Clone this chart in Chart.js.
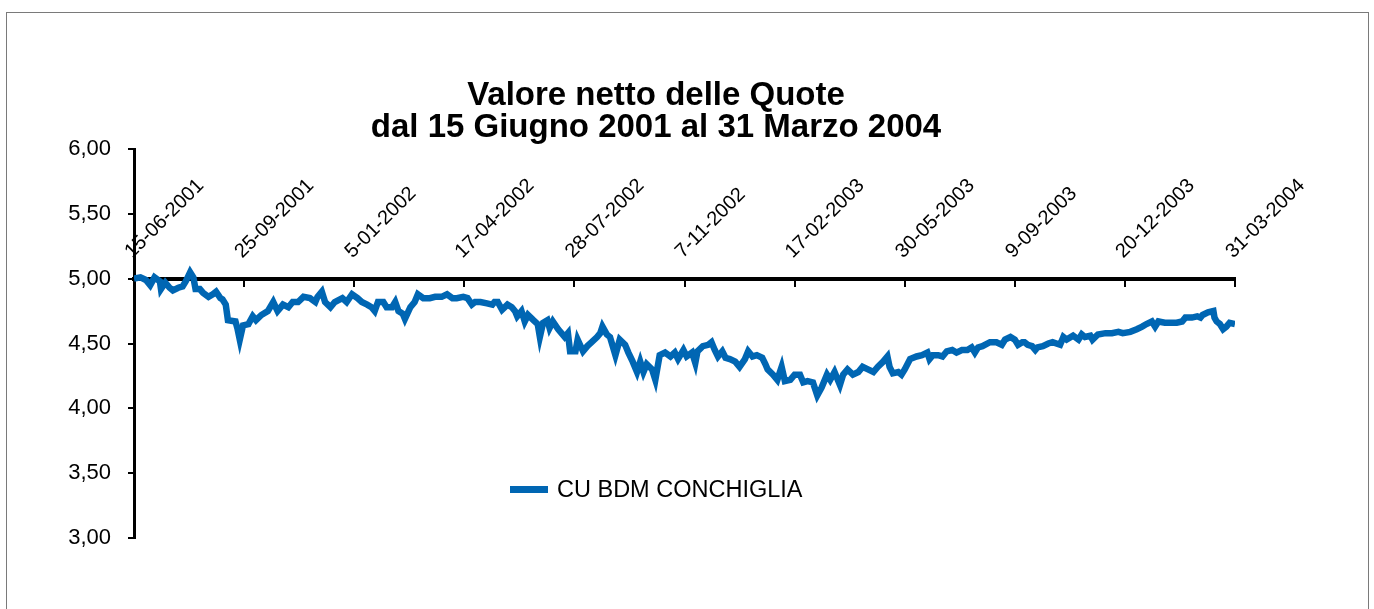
<!DOCTYPE html>
<html>
<head>
<meta charset="utf-8">
<script src="https://cdn.jsdelivr.net/npm/chart.js@4.4.1/dist/chart.umd.min.js"></script>
<style>
  html, body { margin: 0; padding: 0; background: #ffffff; overflow: hidden; }
  #frame { position: absolute; left: 6px; top: 12px; width: 1361px; height: 700px;
           border: 1px solid #7a7a7a; border-bottom: none; }
  #wrap { position: absolute; left: 0; top: 0; width: 1374px; height: 609px; }
  #legend { position: absolute; left: 510px; top: 476px; height: 26px; display: flex; align-items: center;
            font-family: "Liberation Sans", Arial, Helvetica, sans-serif; font-size: 23.5px; color: #000; }
  #legend .sw { width: 38px; height: 7px; background: #0066b3; margin-right: 9px; }
</style>
</head>
<body>
<div id="frame"></div>
<div id="wrap"><canvas id="c" width="1374" height="609"></canvas></div>
<div id="legend"><span class="sw"></span><span>CU BDM CONCHIGLIA</span></div>
<script>
const titleLines = ["Valore netto delle Quote", "dal 15 Giugno 2001 al 31 Marzo 2004"];
const seriesName = "CU BDM CONCHIGLIA";
const tickLabels = ["15-06-2001", "25-09-2001", "5-01-2002", "17-04-2002", "28-07-2002", "7-11-2002",
                    "17-02-2003", "30-05-2003", "9-09-2003", "20-12-2003", "31-03-2004"];
const tickStepDays = 102;
// days elapsed since 15-06-2001
const days = [0, 6, 11, 15, 19, 24, 25, 29, 33, 36, 41, 45, 48, 52, 55, 57, 61, 64, 69, 73,
  76, 80, 82, 85, 87, 94, 96, 98, 101, 106, 110, 113, 118, 124, 129, 133, 138, 143, 147, 152,
  157, 163, 168, 170, 174, 177, 182, 186, 193, 197, 202, 207, 211, 216, 220, 223, 226, 231, 234, 239,
  242, 245, 249, 251, 256, 260, 263, 268, 274, 279, 285, 290, 295, 299, 305, 309, 313, 316, 321, 327,
  332, 334, 337, 341, 346, 350, 353, 355, 359, 362, 365, 370, 374, 376, 379, 383, 385, 388, 393, 397,
  399, 402, 404, 409, 411, 416, 420, 424, 429, 432, 434, 438, 441, 446, 450, 455, 458, 462, 466, 469,
  472, 475, 480, 483, 487, 492, 497, 501, 504, 509, 512, 517, 520, 522, 527, 532, 535, 538, 541, 545,
  548, 552, 557, 561, 566, 569, 573, 577, 582, 585, 587, 592, 596, 600, 603, 608, 612, 617, 620, 624,
  629, 633, 637, 642, 645, 649, 654, 657, 661, 666, 671, 675, 680, 685, 689, 694, 698, 700, 703, 708,
  711, 714, 719, 725, 730, 735, 737, 740, 745, 749, 753, 758, 762, 767, 772, 776, 779, 782, 786, 793,
  799, 804, 807, 812, 816, 819, 823, 825, 828, 832, 835, 837, 842, 847, 851, 858, 861, 864, 870, 875,
  878, 881, 886, 888, 893, 900, 906, 912, 916, 923, 929, 934, 938, 943, 946, 949, 955, 962, 966, 971,
  974, 980, 985, 988, 990, 995, 1000, 1001, 1003, 1006, 1009, 1012, 1015, 1020];
const values = [5.00, 5.01, 4.99, 4.95, 5.01, 4.98, 4.92, 4.97, 4.93, 4.91, 4.93, 4.94, 4.98, 5.05, 5.01, 4.92, 4.92, 4.89, 4.86, 4.88,
  4.90, 4.85, 4.84, 4.80, 4.68, 4.67, 4.61, 4.53, 4.64, 4.65, 4.71, 4.68, 4.72, 4.75, 4.82, 4.75, 4.80, 4.78, 4.82, 4.82,
  4.86, 4.85, 4.82, 4.86, 4.90, 4.82, 4.78, 4.82, 4.85, 4.82, 4.88, 4.85, 4.82, 4.80, 4.78, 4.75, 4.82, 4.82, 4.78, 4.78,
  4.82, 4.75, 4.73, 4.69, 4.78, 4.82, 4.88, 4.85, 4.85, 4.86, 4.86, 4.88, 4.85, 4.85, 4.86, 4.85, 4.80, 4.82, 4.82, 4.81,
  4.80, 4.82, 4.82, 4.76, 4.80, 4.78, 4.75, 4.71, 4.75, 4.67, 4.72, 4.68, 4.65, 4.55, 4.66, 4.68, 4.62, 4.67, 4.61, 4.57,
  4.55, 4.58, 4.44, 4.44, 4.53, 4.44, 4.48, 4.51, 4.55, 4.58, 4.63, 4.57, 4.55, 4.41, 4.53, 4.49, 4.43, 4.36, 4.28, 4.36,
  4.28, 4.34, 4.30, 4.22, 4.41, 4.43, 4.40, 4.43, 4.38, 4.45, 4.40, 4.43, 4.35, 4.44, 4.48, 4.49, 4.51, 4.45, 4.40, 4.44,
  4.39, 4.38, 4.36, 4.32, 4.38, 4.44, 4.40, 4.41, 4.39, 4.34, 4.30, 4.26, 4.22, 4.32, 4.21, 4.22, 4.26, 4.26, 4.20, 4.21,
  4.20, 4.10, 4.16, 4.26, 4.22, 4.28, 4.18, 4.26, 4.30, 4.26, 4.28, 4.32, 4.30, 4.28, 4.32, 4.36, 4.40, 4.32, 4.27, 4.28,
  4.26, 4.30, 4.38, 4.40, 4.41, 4.43, 4.38, 4.41, 4.41, 4.40, 4.44, 4.45, 4.43, 4.45, 4.45, 4.47, 4.43, 4.47, 4.48, 4.51,
  4.51, 4.49, 4.53, 4.55, 4.53, 4.49, 4.51, 4.51, 4.49, 4.48, 4.45, 4.47, 4.48, 4.50, 4.51, 4.49, 4.55, 4.53, 4.56, 4.53,
  4.57, 4.55, 4.56, 4.53, 4.57, 4.58, 4.58, 4.59, 4.58, 4.59, 4.61, 4.63, 4.65, 4.67, 4.63, 4.67, 4.66, 4.66, 4.66, 4.67,
  4.70, 4.70, 4.71, 4.70, 4.72, 4.74, 4.75, 4.70, 4.67, 4.65, 4.61, 4.63, 4.66, 4.65];
const yTicks = { min: 3, max: 6, step: 0.5 };
const axisCrossValue = 5;

const points = days.map((d, i) => ({ x: d, y: values[i] }));
const FONT = "'Liberation Sans', Arial, Helvetica, sans-serif";
const lastDay = tickStepDays * (tickLabels.length - 1);

// widen label clip boxes so the tick labels can be drawn where the original puts them
const labelBoxes = {
  id: 'labelBoxes',
  afterLayout(chart) {
    const s = chart.scales;
    s.y.left = 0;
    s.x2.top = 0;
    s.x2.left = 0;
    s.x2.right = chart.width;
    s.x2.bottom = s.y.getPixelForValue(axisCrossValue);
  }
};

new Chart(document.getElementById('c'), {
  type: 'line',
  data: {
    datasets: [{
      label: seriesName,
      data: points,
      borderColor: '#0066b3',
      backgroundColor: '#0066b3',
      borderWidth: 6.5,
      pointRadius: 0,
      tension: 0,
      fill: false,
      xAxisID: 'x',
      yAxisID: 'y'
    }]
  },
  plugins: [labelBoxes],
  options: {
    responsive: false,
    animation: false,
    layout: { padding: { left: 77, right: 139, top: 0, bottom: 71 } },
    plugins: {
      legend: { display: false },
      tooltip: { enabled: false },
      title: {
        display: true,
        text: titleLines,
        color: '#000',
        font: { family: FONT, size: 33, weight: 'bold', lineHeight: 0.97 },
        padding: { top: 80, bottom: 5 }
      }
    },
    scales: {
      x: {
        type: 'linear',
        position: { y: axisCrossValue },
        min: 0,
        max: lastDay,
        ticks: { display: false, stepSize: tickStepDays },
        grid: { drawOnChartArea: false, drawTicks: true, tickLength: 6, color: '#000', lineWidth: 2 },
        border: { display: true, color: '#000', width: 4 }
      },
      x2: {
        type: 'linear',
        position: 'top',
        min: 0,
        max: lastDay,
        ticks: {
          stepSize: tickStepDays,
          autoSkip: false,
          minRotation: 45,
          maxRotation: 45,
          padding: 13,
          color: '#000',
          font: { family: FONT, size: 20, lineHeight: 0.4 },
          callback: (v) => tickLabels[Math.round(v / tickStepDays)]
        },
        grid: { display: false },
        border: { display: false },
        afterFit: (s) => { s.height = 0; }
      },
      y: {
        type: 'linear',
        position: 'left',
        min: yTicks.min,
        max: yTicks.max,
        ticks: {
          stepSize: yTicks.step,
          padding: 17,
          color: '#000',
          font: { family: FONT, size: 22 },
          callback: (v) => v.toFixed(2).replace('.', ',')
        },
        grid: { drawOnChartArea: false, drawTicks: true, tickLength: 6, color: '#000', lineWidth: 2 },
        border: { display: true, color: '#000', width: 3 },
        afterFit: (s) => { s.width = 57; }
      }
    }
  }
});
</script>
</body>
</html>
